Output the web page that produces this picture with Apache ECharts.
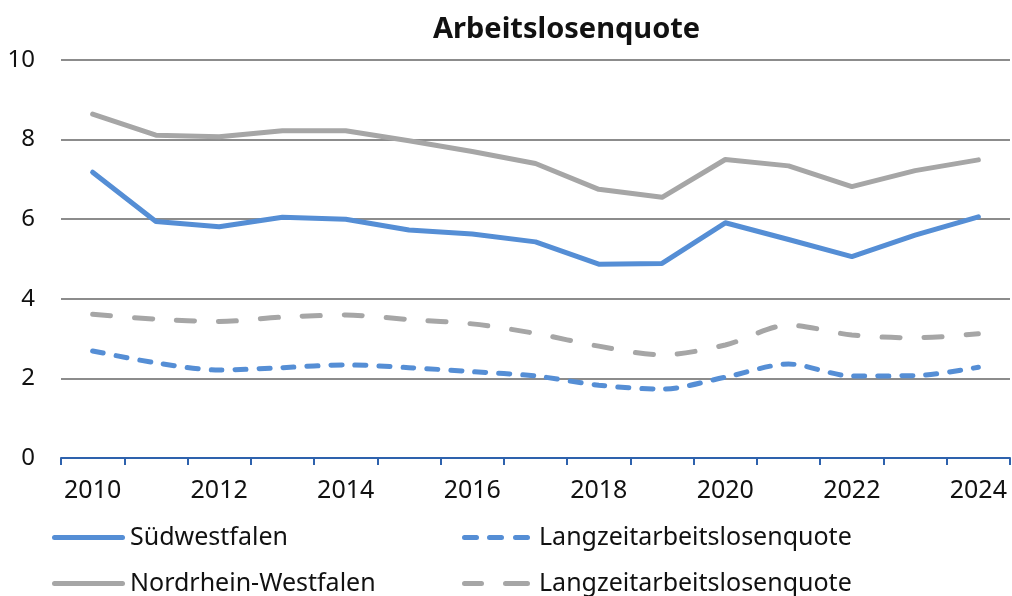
<!DOCTYPE html>
<html><head><meta charset="utf-8">
<script src="https://cdn.jsdelivr.net/npm/echarts@6/dist/echarts.min.js"></script>
<style>html,body{margin:0;padding:0;background:#fff}#c{width:1012px;height:596px}</style>
</head><body><div id="c"></div>
<script>
const years = ['2010','2011','2012','2013','2014','2015','2016','2017','2018','2019','2020','2021','2022','2023','2024'];
const swf = [7.18,5.94,5.81,6.05,6.00,5.73,5.63,5.43,4.87,4.89,5.91,5.49,5.06,5.60,6.06];
const nrw = [8.64,8.11,8.07,8.22,8.22,7.97,7.70,7.40,6.75,6.55,7.50,7.34,6.82,7.22,7.49];
const swfLang = [2.69,2.39,2.21,2.27,2.34,2.27,2.17,2.06,1.83,1.73,2.03,2.36,2.06,2.07,2.28];
const nrwLang = [3.61,3.49,3.43,3.54,3.59,3.48,3.37,3.13,2.81,2.59,2.84,3.34,3.09,3.02,3.12];
const yTicks = {min:0, max:10, interval:2};
const labels = {
  swf:'Südwestfalen', swfL:'Langzeitarbeitslosenquote',
  nrw:'Nordrhein-Westfalen', nrwL:'Langzeitarbeitslosenquote'
};
const FONT = '"Noto Sans", "Open Sans", sans-serif';
const BLUE = '#558ed5', GRAY = '#a6a6a6';
function dash(x0, x1){
  const a = x0 + 2.5, b = x1 - 2.5;
  return `M${a},0 H${b} A2.5,2.5 0 0 1 ${b},5 H${a} A2.5,2.5 0 0 1 ${a},0 Z `;
}
const ICON_SOLID = 'path://' + dash(0, 73);
const ICON_BLUE_DASH = 'path://' + dash(0,17) + dash(25,42) + dash(51,68);
const ICON_GRAY_DASH = 'path://' + dash(0,22) + dash(41,68);
const chart = echarts.init(document.getElementById('c'), null, {renderer:'canvas'});
function leg(key, icon, w, left, top, pad){
  return {data:[{name:key, icon:icon}], left:left, top:top, itemWidth:w, itemHeight:5, itemGap:0,
    formatter: n => labels[n], selectedMode:false,
    textStyle:{fontFamily:FONT, fontSize:25, color:'#111', padding:[0,0,0,pad]}};
}
chart.setOption({
  animation:false,
  title:{text:'Arbeitslosenquote', left:428, top:10, textStyle:{fontFamily:FONT, fontWeight:'bold', fontSize:29, color:'#111'}},
  legend:[leg('swf',ICON_SOLID,73,47,520,0), leg('swfL',ICON_BLUE_DASH,68,457,520,4),
          leg('nrw',ICON_SOLID,73,47,566,0), leg('nrwL',ICON_GRAY_DASH,68,457,566,4)],
  grid:{left:61, right:2, top:60, bottom:138},
  xAxis:{type:'category', data:years, boundaryGap:true,
    axisLine:{lineStyle:{color:'#2e62ad', width:2}},
    axisTick:{show:true, interval:0, length:7, lineStyle:{color:'#2e62ad', width:2}},
    axisLabel:{interval:1, margin:20, fontFamily:FONT, fontSize:25, color:'#111'},
    splitLine:{show:false}},
  yAxis:{type:'value', min:yTicks.min, max:yTicks.max, interval:yTicks.interval,
    axisLine:{show:false}, axisTick:{show:false},
    axisLabel:{margin:26, fontFamily:FONT, fontSize:24, color:'#111'},
    splitLine:{lineStyle:{color:'#8c8c8c', width:2}}},
  series:[
    {name:'swf', type:'line', data:swf, showSymbol:false, symbol:'none',
      lineStyle:{color:BLUE, width:5, cap:'round', join:'round'}, itemStyle:{color:BLUE}},
    {name:'swfL', type:'line', data:swfLang, showSymbol:false, symbol:'none', smooth:0.3,
      lineStyle:{color:BLUE, width:5, type:[11,13], cap:'round'}, itemStyle:{color:BLUE}},
    {name:'nrw', type:'line', data:nrw, showSymbol:false, symbol:'none',
      lineStyle:{color:GRAY, width:5, cap:'round', join:'round'}, itemStyle:{color:GRAY}},
    {name:'nrwL', type:'line', data:nrwLang, showSymbol:false, symbol:'none', smooth:0.3,
      lineStyle:{color:GRAY, width:5, type:[18,24], cap:'round'}, itemStyle:{color:GRAY}}
  ]
});
</script></body></html>
